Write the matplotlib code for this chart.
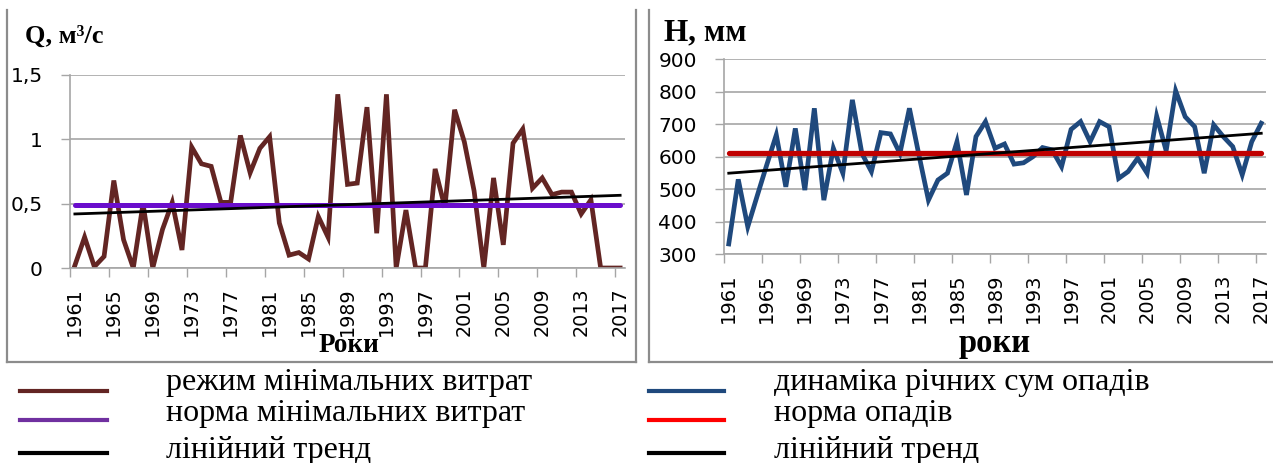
# two panels: minimal discharge and annual precipitation, 1961-2017

import matplotlib
matplotlib.use("Agg")
from matplotlib import pyplot as plt
from matplotlib.lines import Line2D

years = list(range(1961, 2018))

# Q, m3/s - minimal discharge
q_min = [0.02, 0.24, 0.01, 0.09, 0.68, 0.22, 0.0, 0.50, 0.0, 0.30,
         0.51, 0.14, 0.94, 0.81, 0.79, 0.51, 0.51, 1.03, 0.74, 0.93,
         1.02, 0.35, 0.10, 0.12, 0.07, 0.40, 0.24, 1.35, 0.65, 0.66,
         1.25, 0.27, 1.35, 0.0, 0.45, 0.0, 0.0, 0.77, 0.47, 1.23,
         0.98, 0.60, 0.0, 0.70, 0.18, 0.97, 1.08, 0.62, 0.70, 0.57,
         0.59, 0.59, 0.42, 0.53, 0.0, 0.0, 0.0]
q_norm = 0.49
q_trend = [0.42, 0.565]

# H, mm - annual precipitation
h_sum = [331, 530, 384, 480, 575, 667, 507, 687, 497, 749,
         466, 626, 549, 775, 610, 554, 674, 670, 610, 749,
         605, 466, 528, 549, 646, 482, 662, 708, 626, 639,
         577, 581, 600, 628, 621, 569, 684, 708, 646, 708,
         692, 533, 554, 595, 549, 725, 618, 803, 723, 692,
         549, 698, 662, 631, 544, 646, 703]
h_norm = 610
h_trend = [549, 672]

trend_years = [years[0], years[-1]]
label_years = years[::4]

q_ticks = [0, 0.5, 1, 1.5]
q_ticklabels = ["0", "0,5", "1", "1,5"]
h_ticks = [300, 400, 500, 600, 700, 800, 900]

left_labels = ["режим мінімальних витрат", "норма мінімальних витрат", "лінійний тренд"]
right_labels = ["динаміка річних сум опадів", "норма опадів", "лінійний тренд"]

W, H = 1273, 463
def fx(px):
    return px / W
def fy(py):
    return 1 - py / H

GRID = "#A6A6A6"
SERIF = "Liberation Serif"

fig = plt.figure(figsize=(12.73, 4.63), dpi=100)

def style_axes(ax, ylo, yhi, yticks, ylabels, ysize, xsize):
    ax.set_xlim(years[0] - 0.5, years[-1] + 0.5)
    ax.set_ylim(ylo, yhi)
    ax.set_yticks(yticks)
    ax.set_yticklabels(ylabels)
    ax.set_xticks(label_years)
    ax.set_xticklabels([str(y) for y in label_years])
    ax.set_xticks([y - 0.5 for y in label_years], minor=True)
    ax.tick_params(axis="x", which="major", length=0, rotation=90, pad=14, labelsize=xsize)
    ax.tick_params(axis="x", which="minor", length=6.5, width=1, color=GRID)
    ax.tick_params(axis="y", length=6.5, width=1, color=GRID, pad=13, labelsize=ysize)
    ax.yaxis.grid(True, color=GRID, lw=1.2)
    ax.set_axisbelow(True)
    for s in ["top", "right"]:
        ax.spines[s].set_visible(False)
    for s in ["left", "bottom"]:
        ax.spines[s].set_color(GRID)
        ax.spines[s].set_linewidth(1.2)

# left panel
ax1 = fig.add_axes([fx(70), fy(268), fx(625) - fx(70), fy(75) - fy(268)])
ax1.plot(years, q_min, color="#632523", lw=3.4, solid_joinstyle="miter")
ax1.plot(years, [q_norm] * len(years), color="#6A0DCC", lw=3.6, solid_capstyle="round")
ax1.plot(trend_years, q_trend, color="black", lw=2)
style_axes(ax1, 0, 1.5, q_ticks, q_ticklabels, 14.5, 13.8)

# right panel
ax2 = fig.add_axes([fx(724), fy(254), fx(1266) - fx(724), fy(59.3) - fy(254)])
ax2.plot(years, h_sum, color="#1F497D", lw=3.4, solid_joinstyle="miter")
ax2.plot(years, [h_norm] * len(years), color="#C00000", lw=3.8, solid_capstyle="round")
ax2.plot(trend_years, h_trend, color="black", lw=2)
style_axes(ax2, 300, 900, h_ticks, [str(t) for t in h_ticks], 14.5, 14)

# titles and axis names
fig.text(fx(25), fy(43), "Q, м³/с", family=SERIF, weight="bold", fontsize=19, va="baseline")
fig.text(fx(664), fy(40), "H, мм", family=SERIF, weight="bold", fontsize=22.5, va="baseline")
fig.text(fx(349), fy(352), "Роки", family=SERIF, weight="bold", fontsize=19.5, ha="center", va="baseline")
fig.text(fx(995), fy(352), "роки", family=SERIF, weight="bold", fontsize=23.5, ha="center", va="baseline")

# panel frames
BOX = "#8C8C8C"
for xs, ys in [([7, 7], [10, 362]), ([7, 636], [362, 362]), ([636, 636], [10, 362]),
               ([649, 649], [10, 362]), ([649, 1273], [362, 362])]:
    fig.add_artist(Line2D([fx(x) for x in xs], [fy(y) for y in ys],
                          transform=fig.transFigure, color=BOX, lw=1.6))

# legends below the panels
line_rows = [390.7, 420, 452.7]
text_rows = [390, 421, 458]
left_colors = ["#632523", "#7030A0", "black"]
right_colors = ["#1F497D", "#FF0000", "black"]
for i in range(3):
    fig.add_artist(Line2D([fx(20), fx(107)], [fy(line_rows[i])] * 2,
                          transform=fig.transFigure, color=left_colors[i], lw=3))
    fig.text(fx(166), fy(text_rows[i]), left_labels[i], family=SERIF, fontsize=23, va="baseline")
    fig.add_artist(Line2D([fx(649), fx(724)], [fy(line_rows[i])] * 2,
                          transform=fig.transFigure, color=right_colors[i], lw=3))
    fig.text(fx(774), fy(text_rows[i]), right_labels[i], family=SERIF, fontsize=23, va="baseline")

plt.savefig("out.png", dpi=100)
